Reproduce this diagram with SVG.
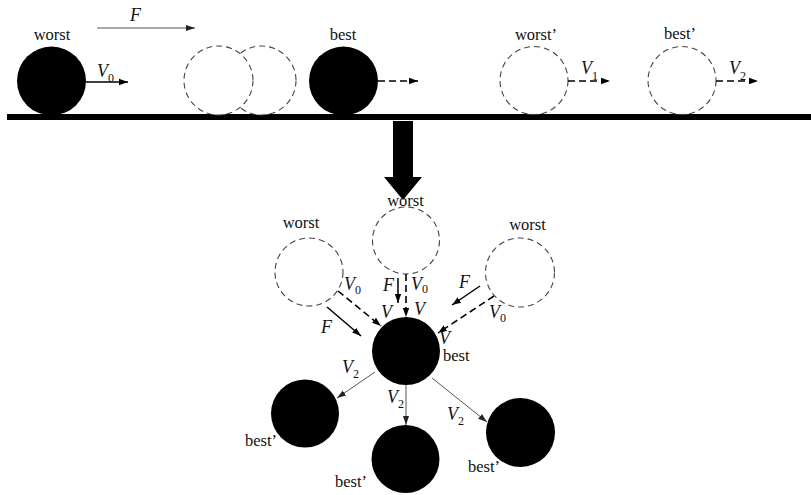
<svg xmlns="http://www.w3.org/2000/svg" width="811" height="495" viewBox="0 0 811 495">
  <style>
    .lbl { font-family: "Liberation Serif", "Times New Roman", serif; font-size: 16.5px; fill: #111; }
    .sym { font-family: "Liberation Serif", "Times New Roman", serif; font-size: 18px; font-style: italic; fill: #111; }
    .sub { font-size: 12px; font-style: normal; fill: #111; }
    .ball { fill: #000; }
    .ghost { fill: #fff; stroke: #444; stroke-width: 1.1; stroke-dasharray: 6 4; }
    .solid { stroke: #000; stroke-width: 1.5; fill: none; }
    .dash { stroke: #000; stroke-width: 1.6; fill: none; stroke-dasharray: 7 4; }
    .thin { stroke: #555; stroke-width: 1; fill: none; }
  </style>
  <defs>
    <marker id="tip" markerUnits="userSpaceOnUse" markerWidth="10" markerHeight="8" refX="9" refY="4" orient="auto">
      <path d="M0,0.8 L9,4 L0,7.2 Z" fill="#000"/>
    </marker>
    <marker id="tipThin" markerUnits="userSpaceOnUse" markerWidth="10" markerHeight="8" refX="9" refY="4" orient="auto">
      <path d="M0,1 L9,4 L0,7 Z" fill="#222"/>
    </marker>
  </defs>

  <rect fill="#fff" width="811" height="495"/>

  <!-- ground line -->
  <rect id="ground" x="7" y="114" width="804" height="6" fill="#000"/>

  <!-- top row: positions along the ground -->
  <g id="top-worst">
    <circle class="ball" cx="51.5" cy="81" r="34.5"/>
    <text class="lbl" x="52" y="40" text-anchor="middle">worst</text>
  </g>
  <g id="top-ghosts">
    <circle class="ghost" cx="261.5" cy="80.5" r="34.5"/>
    <circle class="ghost" cx="218.5" cy="80.5" r="34.5"/>
  </g>
  <g id="top-best">
    <circle class="ball" cx="343.5" cy="81" r="34.5"/>
    <text class="lbl" x="343" y="40" text-anchor="middle">best</text>
  </g>
  <g id="top-worst2">
    <circle class="ghost" cx="534" cy="80.5" r="34"/>
    <text class="lbl" x="536" y="40" text-anchor="middle">worst’</text>
  </g>
  <g id="top-best2">
    <circle class="ghost" cx="682" cy="80.5" r="34"/>
    <text class="lbl" x="680" y="39" text-anchor="middle">best’</text>
  </g>

  <!-- top row connectors -->
  <g id="top-connectors">
    <line class="thin" x1="97" y1="28" x2="195" y2="28" stroke="#000" marker-end="url(#tipThin)"/>
    <line class="solid" x1="86" y1="82" x2="128" y2="82" marker-end="url(#tip)"/>
    <line class="dash" x1="378" y1="81" x2="418" y2="81" marker-end="url(#tip)"/>
    <line class="dash" x1="568" y1="81" x2="610" y2="81" marker-end="url(#tip)"/>
    <line class="dash" x1="716" y1="81" x2="758" y2="81" marker-end="url(#tip)"/>
  </g>
  <g id="top-labels">
    <text class="sym" x="130" y="21">F</text>
    <text class="sym" x="97" y="77">V<tspan class="sub" dy="5">0</tspan></text>
    <text class="sym" x="581" y="74">V<tspan class="sub" dy="6">1</tspan></text>
    <text class="sym" x="729" y="74">V<tspan class="sub" dy="6">2</tspan></text>
  </g>

  <!-- transition arrow -->
  <polygon id="down-arrow" points="393,121 413,121 413,177 422,177 403,200 384,177 393,177" fill="#000"/>

  <!-- bottom: converging on the best position -->
  <g id="worst-left">
    <circle class="ghost" cx="309" cy="272" r="34"/>
    <text class="lbl" x="301" y="228" text-anchor="middle">worst</text>
  </g>
  <g id="worst-top">
    <circle class="ghost" cx="406" cy="240.5" r="33.5"/>
    <text class="lbl" x="405.5" y="206" text-anchor="middle">worst</text>
  </g>
  <g id="worst-right">
    <circle class="ghost" cx="520" cy="272.5" r="34.5"/>
    <text class="lbl" x="527.5" y="230" text-anchor="middle">worst</text>
  </g>
  <g id="best-center">
    <circle class="ball" cx="406" cy="351" r="34"/>
    <text class="lbl" x="443" y="361">best</text>
  </g>
  <g id="best2-left">
    <circle class="ball" cx="305" cy="413.5" r="34"/>
    <text class="lbl" x="245" y="446">best’</text>
  </g>
  <g id="best2-mid">
    <circle class="ball" cx="405.5" cy="459" r="34"/>
    <text class="lbl" x="335" y="487">best’</text>
  </g>
  <g id="best2-right">
    <circle class="ball" cx="520.5" cy="432.5" r="34.5"/>
    <text class="lbl" x="468" y="472">best’</text>
  </g>

  <g id="connectors">
    <!-- from left worst -->
    <line class="dash" x1="338" y1="291" x2="381" y2="326" marker-end="url(#tip)"/>
    <line class="solid" x1="327" y1="307" x2="361" y2="336" marker-end="url(#tip)"/>
    <!-- from top worst -->
    <line class="dash" x1="406" y1="274" x2="406" y2="317" marker-end="url(#tip)"/>
    <line class="solid" x1="398" y1="278" x2="398" y2="303" marker-end="url(#tip)"/>
    <!-- from right worst -->
    <line class="dash" x1="494" y1="296" x2="438" y2="333" marker-end="url(#tip)"/>
    <line class="solid" x1="480" y1="286" x2="452" y2="305" marker-end="url(#tip)"/>
    <!-- spreading to new best positions -->
    <line class="thin" x1="375" y1="372" x2="337" y2="398" marker-end="url(#tipThin)"/>
    <line class="thin" x1="406" y1="385" x2="406" y2="425" marker-end="url(#tipThin)"/>
    <line class="thin" x1="432" y1="378" x2="487" y2="422" marker-end="url(#tipThin)"/>
  </g>

  <g id="bottom-labels">
    <text class="sym" x="344" y="290">V<tspan class="sub" dy="4">0</tspan></text>
    <text class="sym" x="321" y="333">F</text>
    <text class="sym" x="383" y="291">F</text>
    <text class="sym" x="411" y="290">V<tspan class="sub" dy="3">0</tspan></text>
    <text class="sym" x="381" y="318">V</text>
    <text class="sym" x="414" y="315">V</text>
    <text class="sym" x="459" y="288">F</text>
    <text class="sym" x="489" y="318">V<tspan class="sub" dy="4">0</tspan></text>
    <text class="sym" x="439" y="344">V</text>
    <text class="sym" x="342" y="373">V<tspan class="sub" dy="5">2</tspan></text>
    <text class="sym" x="387" y="403">V<tspan class="sub" dy="5">2</tspan></text>
    <text class="sym" x="447" y="420">V<tspan class="sub" dy="5">2</tspan></text>
  </g>
</svg>
